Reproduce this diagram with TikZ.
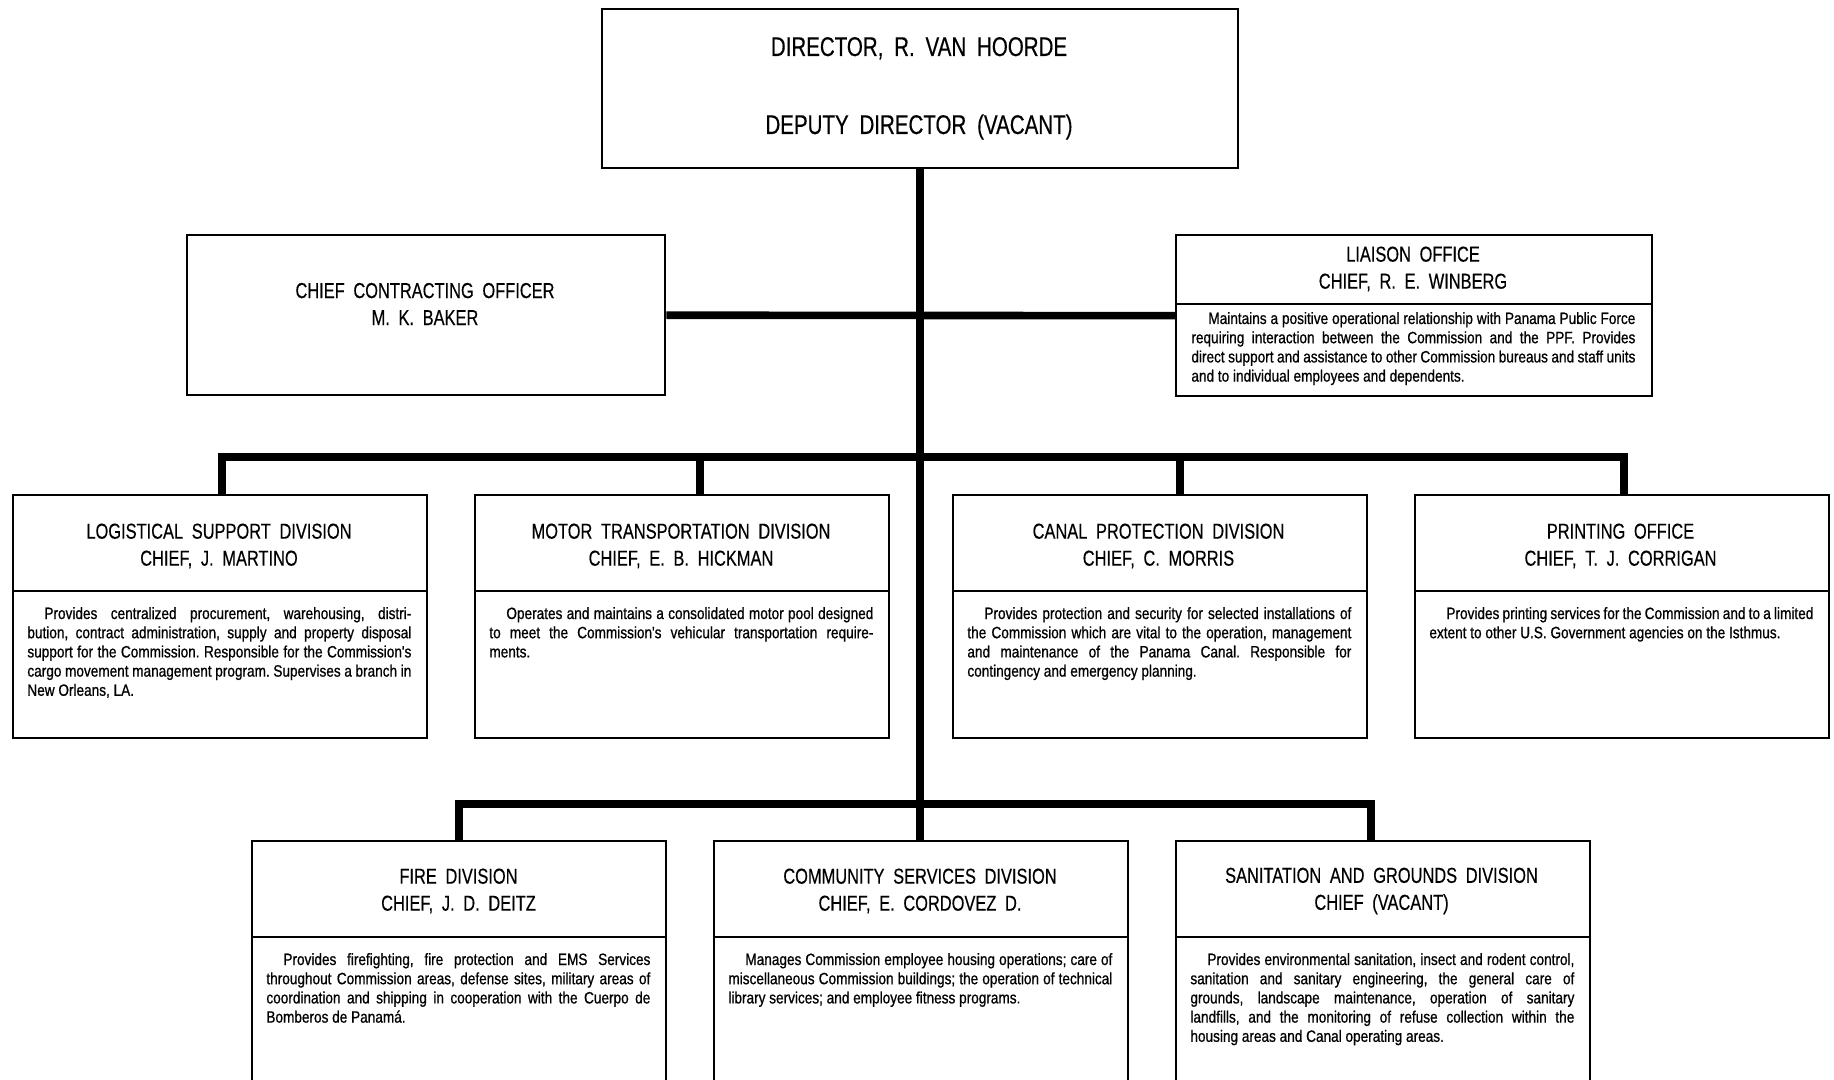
\documentclass[tikz,border=0pt]{standalone}
\usepackage{fontspec}
\setmainfont{Liberation Sans}
\newfontfamily\headfont{Liberation Sans}[FakeStretch=0.76,WordSpace=1.9,FakeBold=0.4]
\newfontfamily\bodyfont{Liberation Sans}[FakeStretch=0.83,FakeBold=0.8]
\begin{document}
\begin{tikzpicture}[x=0.5pt,y=-0.5pt,
  box/.style={draw,line width=1.2pt,anchor=north west,inner sep=0pt},
  divbox/.style={box,minimum width=207pt,minimum height=121.5pt},
  lowbox/.style={box,minimum width=207pt,minimum height=135pt},
  conn/.style={line width=3.8pt},
  rule/.style={line width=1pt},
  head/.style={font=\headfont\fontsize{10.8}{13.5}\selectfont,align=center,inner sep=0pt},
  chief/.style={font=\headfont\fontsize{13.5}{15}\selectfont,inner sep=0pt,anchor=base},
  body/.style={font=\bodyfont\fontsize{8.2}{9.6}\selectfont,text width=#1,align=justify,
    anchor=base west,inner sep=0pt,
    execute at begin node={\frenchspacing\tolerance=9999\hbadness=10000\hspace*{8.5pt}}},
  body/.default=192pt
]
\useasboundingbox (0,0) rectangle (1834,1080);

% ---------- boxes ----------
\node[box,minimum width=318pt,minimum height=79.5pt] (dir) at (601,8) {};
\node[box,minimum width=239pt,minimum height=80pt] (cco) at (186,234) {};
\node[box,minimum width=238pt,minimum height=80.5pt] (lia) at (1175,234) {};

\node[divbox] (log) at (12,494) {};
\node[divbox] (mot) at (474,494) {};
\node[divbox] (can) at (952,494) {};
\node[divbox] (prt) at (1414,494) {};

\node[lowbox] (fir) at (251,840) {};
\node[lowbox] (com) at (713,840) {};
\node[lowbox] (san) at (1175,840) {};

% ---------- dividers between header and description ----------
\draw[rule] ([yshift=-35pt]lia.north west) -- ([yshift=-35pt]lia.north east);
\foreach \b in {log,mot,can,prt,fir,com,san}
  \draw[rule] ([yshift=-48.5pt]\b.north west) -- ([yshift=-48.5pt]\b.north east);

% ---------- connectors ----------
\coordinate (busA) at (920,457);
\coordinate (busB) at (920,804);
\draw[conn] (dir.south) -- (dir.south |- com.north);
\draw[conn] (cco.east) -- (lia.west);
\draw[conn] ([xshift=1pt]log.north) -- ([xshift=1pt]log.north |- busA)
  -- ([xshift=1pt]prt.north |- busA) -- ([xshift=1pt]prt.north);
\draw[conn] ([xshift=9pt]mot.north |- busA) -- ([xshift=9pt]mot.north);
\draw[conn] ([xshift=10pt]can.north |- busA) -- ([xshift=10pt]can.north);
\draw[conn] (fir.north) -- (fir.north |- busB)
  -- ([xshift=-6pt]san.north |- busB) -- ([xshift=-6pt]san.north);

% ---------- titles ----------
\node[chief] (dirA) at (919,56) {DIRECTOR, R. VAN HOORDE};
\node[chief] (dirB) at (919,134) {DEPUTY DIRECTOR (VACANT)};
\node[head] (ccoH) at (425,304) {CHIEF CONTRACTING OFFICER\\M. K. BAKER};
\node[head] (liaH) at (1413,269) {LIAISON OFFICE\\CHIEF, R. E. WINBERG};
\node[head] (logH) at (219,546) {LOGISTICAL SUPPORT DIVISION\\CHIEF, J. MARTINO};
\node[head] (motH) at (681,546) {MOTOR TRANSPORTATION DIVISION\\CHIEF, E. B. HICKMAN};
\node[head] (canH) at (1158.5,546) {CANAL PROTECTION DIVISION\\CHIEF, C. MORRIS};
\node[head] (prtH) at (1620.5,546) {PRINTING OFFICE\\CHIEF, T. J. CORRIGAN};
\node[head] (firH) at (458.5,891) {FIRE DIVISION\\CHIEF, J. D. DEITZ};
\node[head] (comH) at (920,891) {COMMUNITY SERVICES DIVISION\\CHIEF, E. CORDOVEZ D.};
\node[head] (sanH) at (1381.5,891) {SANITATION AND GROUNDS DIVISION\\CHIEF (VACANT)};

% ---------- descriptions ----------
\node[body=222pt] (liaT) at (1191,324) {Maintains a positive operational relationship with Panama Public Force\linebreak
requiring interaction between the Commission and the PPF. Provides\linebreak
direct support and assistance to other Commission bureaus and staff units\linebreak
and to individual employees and dependents.};

\node[body] (logT) at (27,619) {Provides centralized procurement, warehousing, distri-\linebreak
bution, contract administration, supply and property disposal\linebreak
support for the Commission. Responsible for the Commission's\linebreak
cargo movement management program. Supervises a branch in\linebreak
New Orleans, LA.};

\node[body] (motT) at (489,619) {Operates and maintains a consolidated motor pool designed\linebreak
to meet the Commission's vehicular transportation require-\linebreak
ments.};

\node[body] (canT) at (967,619) {Provides protection and security for selected installations of\linebreak
the Commission which are vital to the operation, management\linebreak
and maintenance of the Panama Canal. Responsible for\linebreak
contingency and emergency planning.};

\node[body] (prtT) at (1429,619) {Provides printing services for the Commission and to a limited\linebreak
extent to other U.S. Government agencies on the Isthmus.};

\node[body] (firT) at (266,965) {Provides firefighting, fire protection and EMS Services\linebreak
throughout Commission areas, defense sites, military areas of\linebreak
coordination and shipping in cooperation with the Cuerpo de\linebreak
Bomberos de Panamá.};

\node[body] (comT) at (728,965) {Manages Commission employee housing operations; care of\linebreak
miscellaneous Commission buildings; the operation of technical\linebreak
library services; and employee fitness programs.};

\node[body] (sanT) at (1190,965) {Provides environmental sanitation, insect and rodent control,\linebreak
sanitation and sanitary engineering, the general care of\linebreak
grounds, landscape maintenance, operation of sanitary\linebreak
landfills, and the monitoring of refuse collection within the\linebreak
housing areas and Canal operating areas.};
\end{tikzpicture}
\end{document}
